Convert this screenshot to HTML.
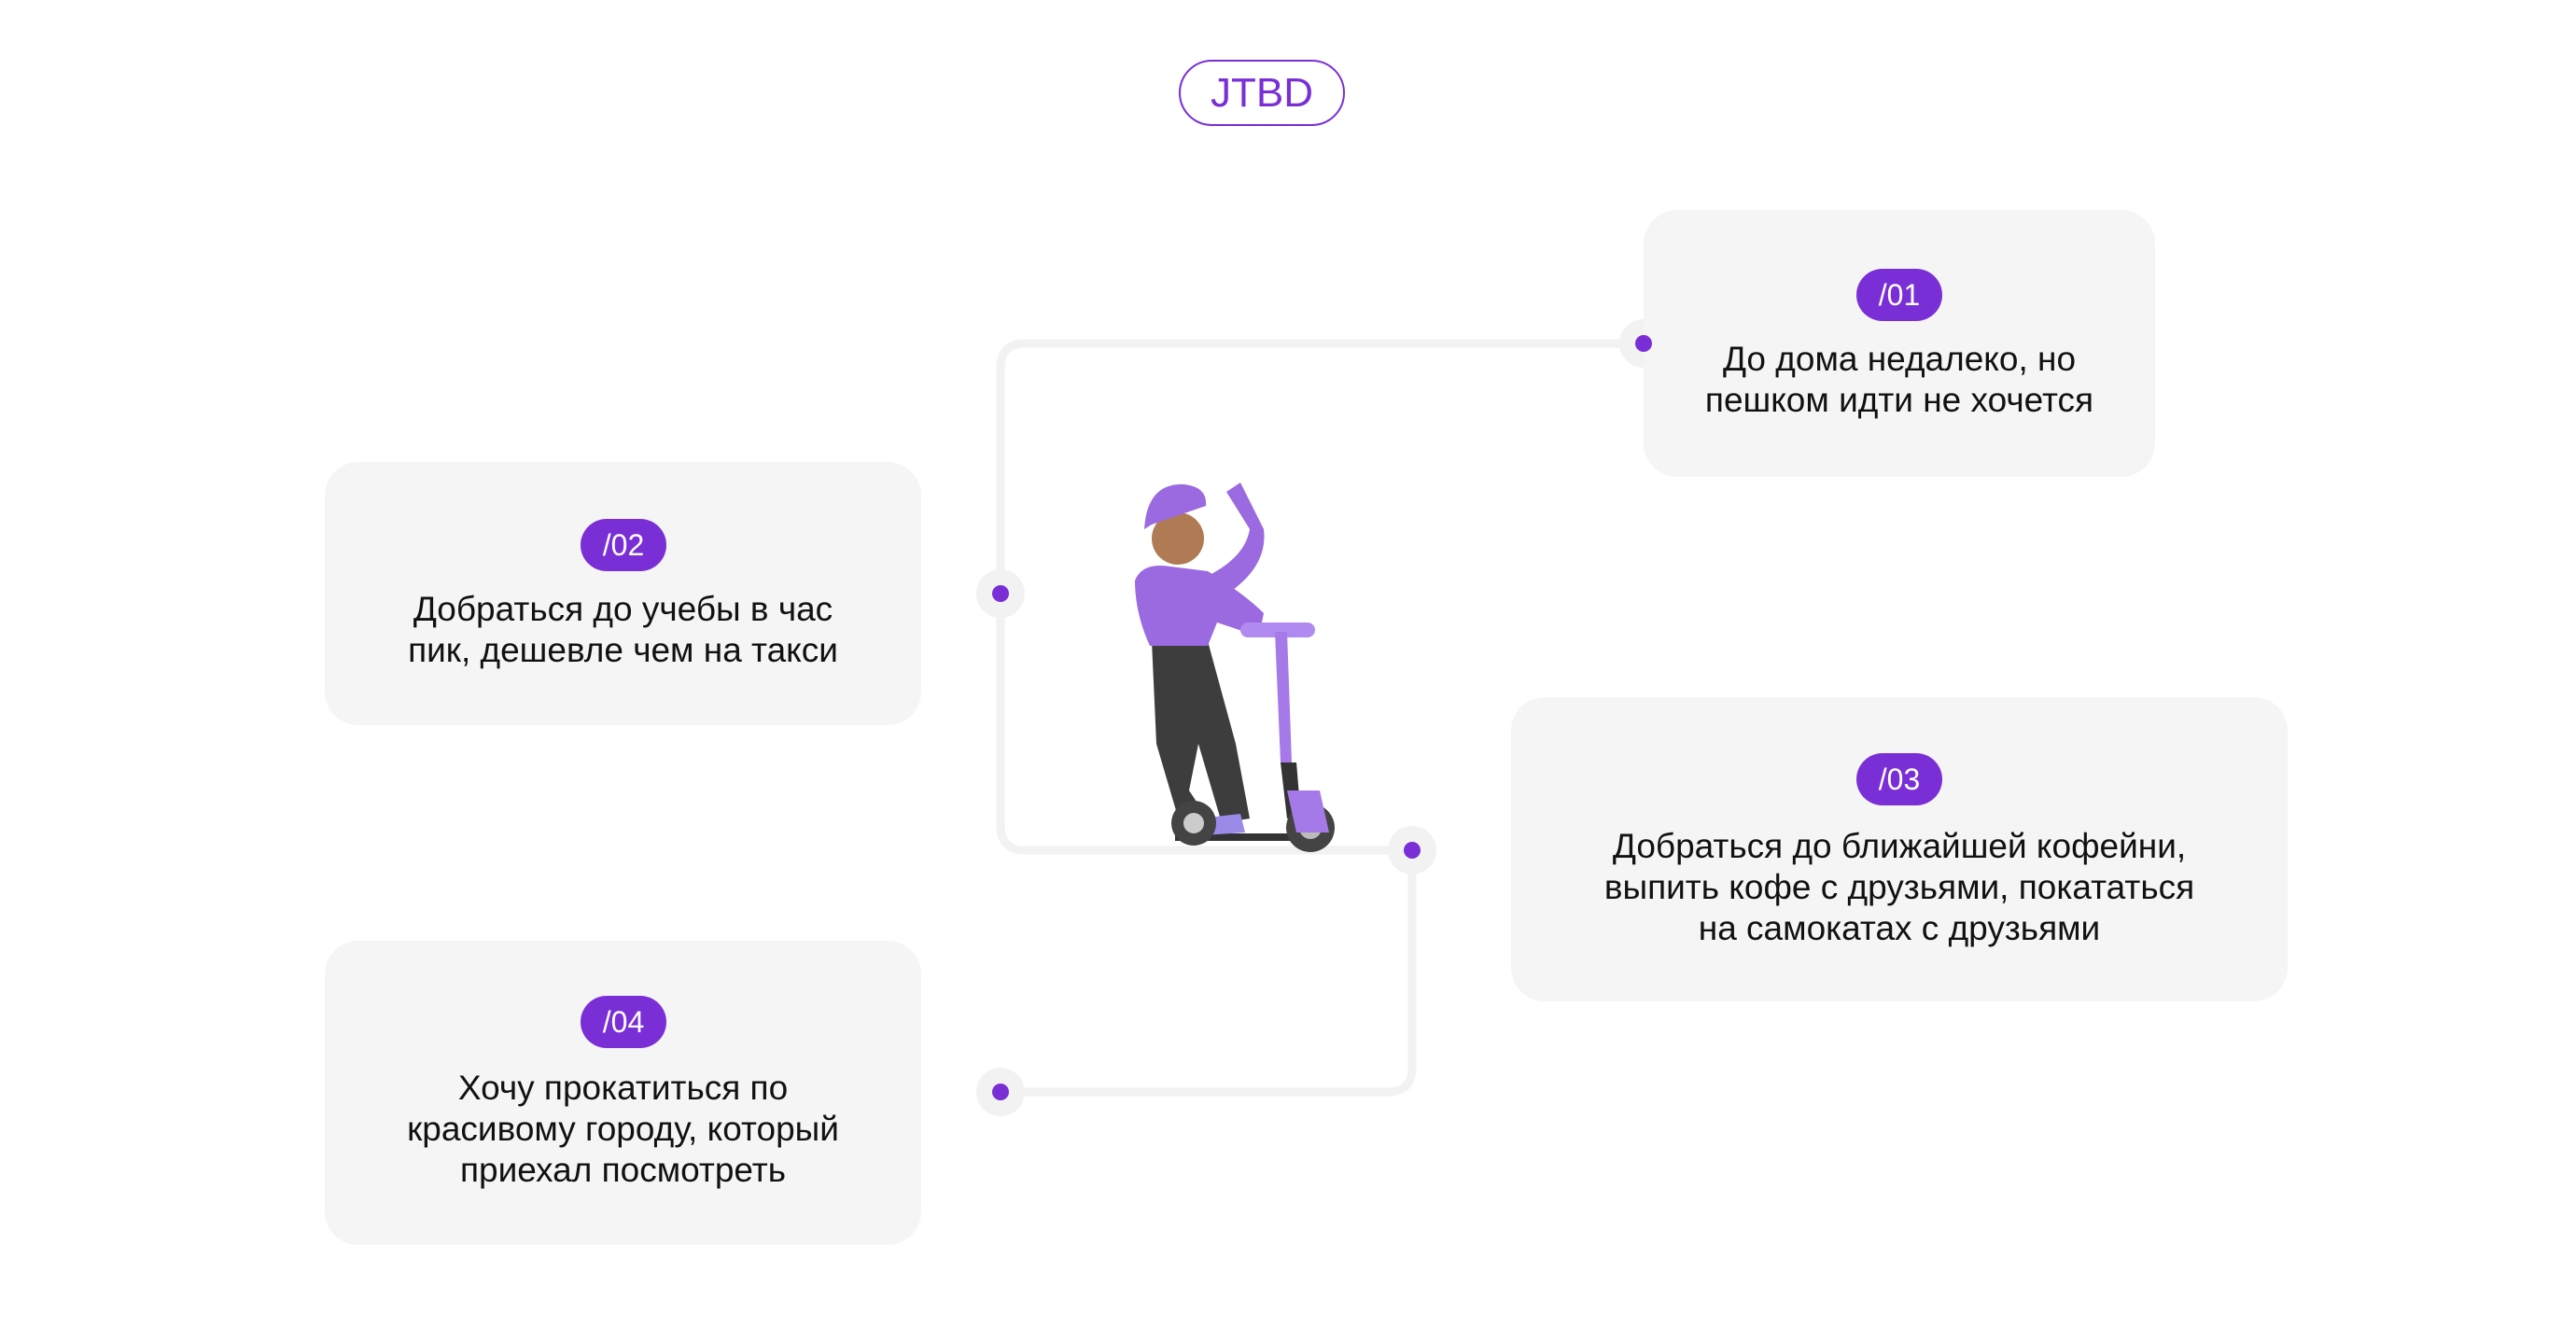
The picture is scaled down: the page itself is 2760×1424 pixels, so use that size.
<!DOCTYPE html>
<html><head><meta charset="utf-8"><style>
html,body{margin:0;padding:0;background:#fff;}
body{width:2760px;height:1424px;position:relative;overflow:hidden;font-family:"Liberation Sans","DejaVu Sans",sans-serif;}
.card{position:absolute;background:#f5f5f5;border-radius:36px;}
.badge{position:absolute;background:#7a2fd6;color:#fff;border-radius:28px;width:92px;height:56px;line-height:56px;text-align:center;font-size:32px;}
.t{position:absolute;left:0;right:0;text-align:center;color:#111;font-size:37px;line-height:44px;}
</style></head><body>
<div style="position:absolute;left:1263px;top:64px;width:174px;height:67px;border:2.5px solid #7a2fd6;border-radius:36px;color:#7a2fd6;font-size:44px;line-height:67px;text-align:center;">JTBD</div>

<div class="card" style="left:1761px;top:225px;width:548px;height:286px;">
<div class="badge" style="left:228px;top:63px;">/01</div>
<div class="t" style="top:138px;">До дома недалеко, но<br>пешком идти не хочется</div></div>

<div class="card" style="left:348px;top:495px;width:639px;height:282px;">
<div class="badge" style="left:274px;top:61px;">/02</div>
<div class="t" style="top:136px;">Добраться до учебы в час<br>пик, дешевле чем на такси</div></div>

<div class="card" style="left:1619px;top:747px;width:832px;height:326px;">
<div class="badge" style="left:370px;top:60px;">/03</div>
<div class="t" style="top:138px;">Добраться до ближайшей кофейни,<br>выпить кофе с друзьями, покататься<br>на самокатах с друзьями</div></div>

<div class="card" style="left:348px;top:1008px;width:639px;height:326px;">
<div class="badge" style="left:274px;top:59px;">/04</div>
<div class="t" style="top:136px;">Хочу прокатиться по<br>красивому городу, который<br>приехал посмотреть</div></div>

<svg width="2760" height="1424" style="position:absolute;left:0;top:0">
<g fill="none" stroke="#f2f2f2" stroke-width="9">
<path d="M1740 368 H1098 Q1072 368 1072 394 V885 Q1072 911 1098 911 H1513"/>
<path d="M1513 911 V1144 Q1513 1170 1487 1170 H1072"/>
</g>
<g fill="#f2f2f2"><path d="M1761 342 A26 26 0 0 0 1761 394 Z"/><circle cx="1072" cy="636" r="26"/><circle cx="1513" cy="911" r="26"/><circle cx="1072" cy="1170" r="26"/></g>
<g fill="#7a2fd6"><circle cx="1761" cy="368" r="9"/><circle cx="1072" cy="636" r="9"/><circle cx="1513" cy="911" r="9"/><circle cx="1072" cy="1170" r="9"/></g>
<g transform="translate(-6,-3)">
<path d="M1240 690 L1300 690 L1330 800 L1345 880 L1315 885 L1290 800 L1280 850 L1300 880 L1270 885 L1245 800 Z" fill="#3d3d3d"/>
<path d="M1222 625 Q1230 605 1260 610 L1300 615 Q1340 640 1360 660 L1355 685 L1310 670 L1300 695 L1238 695 Q1222 660 1222 625Z" fill="#9b6ae0"/>
<path d="M1300 620 Q1340 600 1345 570 L1320 530 L1335 520 L1360 570 Q1365 610 1320 640Z" fill="#9b6ae0"/>
<circle cx="1268" cy="580" r="28" fill="#b07a55"/>
<path d="M1232 570 Q1235 520 1275 522 Q1300 525 1298 545 L1240 565Z" fill="#9b6ae0"/>
<rect x="1335" y="670" width="80" height="16" rx="8" fill="#b08af0"/>
<path d="M1372 680 L1385 680 L1390 820 L1378 820Z" fill="#a57ae8"/>
<path d="M1378 820 L1395 820 L1400 880 L1385 880Z" fill="#333"/>
<path d="M1265 900 L1395 900" stroke="#333" stroke-width="8"/>
<path d="M1290 880 L1335 875 L1340 895 L1295 898Z" fill="#9b8ae8"/>
<circle cx="1285" cy="885" r="24" fill="#444"/><circle cx="1285" cy="885" r="11" fill="#ccc"/>
<circle cx="1410" cy="890" r="26" fill="#444"/><circle cx="1410" cy="890" r="12" fill="#bbb"/>
<path d="M1385 850 L1420 850 L1430 895 L1395 895Z" fill="#a57ae8"/>
</g>
</svg>
</body></html>
